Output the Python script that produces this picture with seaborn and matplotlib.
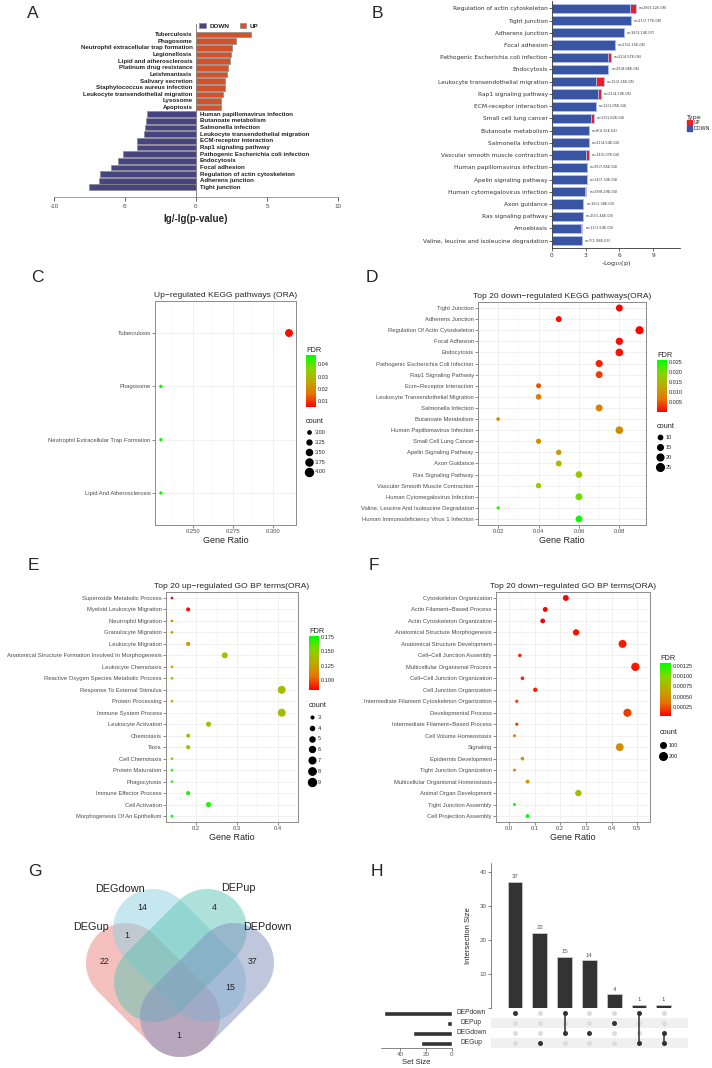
import numpy as np
import pandas as pd
import matplotlib
matplotlib.use('Agg')
import matplotlib.pyplot as plt
import matplotlib.transforms as mtransforms
import seaborn as sns
from matplotlib.colors import LinearSegmentedColormap, Normalize
from matplotlib.lines import Line2D
from matplotlib.patches import Patch, Polygon

# ---------------- data ----------------
# A: KEGG up / down (lg / -lg p)
termsA_up = ['Tuberculosis', 'Phagosome', 'Neutrophil extracellular trap formation', 'Legionellosis',
             'Lipid and atherosclerosis', 'Platinum drug resistance', 'Leishmaniasis', 'Salivary secretion',
             'Staphylococcus aureus infection', 'Leukocyte transendothelial migration', 'Lysosome', 'Apoptosis']
valsA_up = [3.88, 2.82, 2.54, 2.47, 2.40, 2.26, 2.21, 2.05, 2.05, 1.91, 1.76, 1.74]
termsA_down = ['Human papillomavirus infection', 'Butanoate metabolism', 'Salmonella infection',
               'Leukocyte transendothelial migration', 'ECM-receptor interaction', 'Rap1 signaling pathway',
               'Pathogenic Escherichia coli infection', 'Endocytosis', 'Focal adhesion',
               'Regulation of actin cytoskeleton', 'Adherens junction', 'Tight junction']
valsA_down = [-3.46, -3.51, -3.62, -3.69, -4.19, -4.19, -5.13, -5.46, -6.02, -6.75, -6.80, -7.50]

# B: stacked -log10(p)
termsB = ['Regulation of actin cytoskeleton', 'Tight junction', 'Adherens junction', 'Focal adhesion',
          'Pathogenic Escherichia coli infection', 'Endocytosis', 'Leukocyte transendothelial migration',
          'Rap1 signaling pathway', 'ECM-receptor interaction', 'Small cell lung cancer', 'Butanoate metabolism',
          'Salmonella infection', 'Vascular smooth muscle contraction', 'Human papillomavirus infection',
          'Apelin signaling pathway', 'Human cytomegalovirus infection', 'Axon guidance', 'Ras signaling pathway',
          'Amoebiasis', 'Valine, leucine and isoleucine degradation']
downB = [6.92, 7.04, 6.43, 5.60, 5.02, 5.02, 3.95, 4.12, 3.89, 3.43, 3.32, 3.29, 3.03, 3.12, 3.12, 2.94,
         2.80, 2.77, 2.54, 2.65]
upB = [0.52, 0, 0, 0, 0.26, 0, 0.64, 0.21, 0, 0.32, 0, 0, 0.23, 0, 0, 0.12, 0, 0, 0.17, 0]
nB = [28, 21, 16, 23, 22, 25, 15, 21, 12, 13, 8, 21, 14, 25, 14, 29, 16, 20, 11, 7]
pB = ['3.12E-08', '7.77E-08', '3.14E-07', '2.15E-06', '4.57E-06', '8.06E-06', '2.26E-05', '4.10E-05',
      '1.05E-04', '1.62E-04', '4.15E-04', '4.54E-04', '5.07E-04', '7.85E-04', '7.33E-04', '8.29E-04',
      '1.38E-03', '1.46E-03', '1.54E-03', '1.98E-03']

# C: up KEGG ORA
termsC = ['Tuberculosis', 'Phagosome', 'Neutrophil Extracellular Trap Formation', 'Lipid And Atherosclerosis']
ratioC = [0.310, 0.230, 0.230, 0.230]
countC = [4, 3, 3, 3]
fdrC = [0.0067, 0.047, 0.047, 0.047]

# D: down KEGG ORA
termsD = ['Tight Junction', 'Adherens Junction', 'Regulation Of Actin Cytoskeleton', 'Focal Adhesion',
          'Endocytosis', 'Pathogenic Escherichia Coli Infection', 'Rap1 Signaling Pathway',
          'Ecm−Receptor Interaction', 'Leukocyte Transendothelial Migration', 'Salmonella Infection',
          'Butanoate Metabolism', 'Human Papillomavirus Infection', 'Small Cell Lung Cancer',
          'Apelin Signaling Pathway', 'Axon Guidance', 'Ras Signaling Pathway',
          'Vascular Smooth Muscle Contraction', 'Human Cytomegalovirus Infection',
          'Valine, Leucine And Isoleucine Degradation', 'Human Immunodeficiency Virus 1 Infection']
ratioD = [0.08, 0.05, 0.09, 0.08, 0.08, 0.07, 0.07, 0.04, 0.04, 0.07, 0.02, 0.08, 0.04, 0.05, 0.05,
          0.06, 0.04, 0.06, 0.02, 0.06]
countD = [21, 16, 28, 23, 25, 22, 21, 12, 15, 21, 8, 25, 13, 14, 16, 20, 14, 21, 7, 20]
fdrD = [0.0003, 0.0008, 0.0003, 0.0008, 0.0010, 0.0020, 0.0035, 0.0045, 0.0070, 0.0080, 0.0090, 0.0095,
        0.0100, 0.0110, 0.0150, 0.0170, 0.0180, 0.0205, 0.0235, 0.0255]

# E: up GO BP ORA
termsE = ['Superoxide Metabolic Process', 'Myeloid Leukocyte Migration', 'Neutrophil Migration',
          'Granulocyte Migration', 'Leukocyte Migration',
          'Anatomical Structure Formation Involved In Morphogenesis', 'Leukocyte Chemotaxis',
          'Reactive Oxygen Species Metabolic Process', 'Response To External Stimulus', 'Protein Processing',
          'Immune System Process', 'Leukocyte Activation', 'Chemotaxis', 'Taxis', 'Cell Chemotaxis',
          'Protein Maturation', 'Phagocytosis', 'Immune Effector Process', 'Cell Activation',
          'Morphogenesis Of An Epithelium']
ratioE = [0.14, 0.18, 0.14, 0.14, 0.18, 0.27, 0.14, 0.14, 0.41, 0.14, 0.41, 0.23, 0.18, 0.18, 0.14,
          0.14, 0.14, 0.18, 0.23, 0.14]
countE = [3, 4, 3, 3, 4, 6, 3, 3, 9, 3, 9, 5, 4, 4, 3, 3, 3, 4, 5, 3]
fdrE = [0.085, 0.086, 0.118, 0.118, 0.120, 0.140, 0.135, 0.135, 0.140, 0.135, 0.140, 0.140, 0.140,
        0.140, 0.140, 0.165, 0.165, 0.172, 0.172, 0.177]

# F: down GO BP ORA
termsF = ['Cytoskeleton Organization', 'Actin Filament−Based Process', 'Actin Cytoskeleton Organization',
          'Anatomical Structure Morphogenesis', 'Anatomical Structure Development',
          'Cell−Cell Junction Assembly', 'Multicellular Organismal Process', 'Cell−Cell Junction Organization',
          'Cell Junction Organization', 'Intermediate Filament Cytoskeleton Organization',
          'Developmental Process', 'Intermediate Filament−Based Process', 'Cell Volume Homeostasis',
          'Signaling', 'Epidermis Development', 'Tight Junction Organization',
          'Multicellular Organismal Homeostasis', 'Animal Organ Development', 'Tight Junction Assembly',
          'Cell Projection Assembly']
ratioF = [0.222, 0.142, 0.132, 0.262, 0.443, 0.043, 0.493, 0.053, 0.103, 0.031, 0.462, 0.031, 0.022,
          0.432, 0.053, 0.022, 0.073, 0.271, 0.022, 0.073]
countF = [110, 70, 65, 130, 220, 21, 245, 26, 50, 15, 230, 15, 11, 215, 26, 11, 36, 135, 11, 36]
fdrF = [0.00001, 0.00002, 0.00003, 0.00008, 0.00010, 0.00010, 0.00010, 0.00012, 0.00012, 0.00020,
        0.00020, 0.00020, 0.00040, 0.00050, 0.00050, 0.00050, 0.00060, 0.00080, 0.00130, 0.00130]

# G / H: set intersections
set_names = ['DEPdown', 'DEPup', 'DEGdown', 'DEGup']
combo_sets = [['DEPdown'], ['DEGup'], ['DEGdown', 'DEPdown'], ['DEGdown'], ['DEPup'],
              ['DEGup', 'DEPdown'], ['DEGup', 'DEGdown']]
combo_sizes = [37, 22, 15, 14, 4, 1, 1]

# ---------------- style ----------------
sns.set_theme(style='white')
plt.rcParams['font.family'] = ['Liberation Sans', 'DejaVu Sans']
plt.rcParams['axes.linewidth'] = 0.6
plt.rcParams['axes.unicode_minus'] = False

W, H = 712, 1068
fig = plt.figure(figsize=(W / 100, H / 100), dpi=100)


def box(l, t, r, b):
    return fig.add_axes([l / W, 1 - b / H, (r - l) / W, (b - t) / H])


rg = LinearSegmentedColormap.from_list('rg', ['#FF0000', '#E47400', '#BDAA00', '#84D600', '#00FF00'])

for letter, x, y in [('A', 33, 13), ('B', 377, 13), ('C', 37, 277), ('D', 372, 277),
                     ('E', 33, 565), ('F', 374, 565), ('G', 35, 871), ('H', 377, 871)]:
    fig.text(x / W, 1 - y / H, letter, fontsize=12.5, ha='center', va='center')

# ---------------- A ----------------
axA = box(54, 20, 338, 197)
dfA = pd.DataFrame({'key': ['u' + t for t in termsA_up] + ['d' + t for t in termsA_down],
                    'term': termsA_up + termsA_down,
                    'value': valsA_up + valsA_down,
                    'type': ['UP'] * len(termsA_up) + ['DOWN'] * len(termsA_down)})
sns.barplot(data=dfA, x='value', y='key', hue='type', hue_order=['DOWN', 'UP'],
            palette={'DOWN': '#3D3A8C', 'UP': '#F0440C'}, dodge=False, orient='h', width=0.86,
            edgecolor='#8A8A8A', linewidth=0.5, ax=axA)
for i, row in dfA.iterrows():
    if row['value'] > 0:
        axA.text(-0.25, i, row['term'], ha='right', va='center', fontsize=4.4, fontweight='bold', color='#222')
    else:
        axA.text(0.25, i, row['term'], ha='left', va='center', fontsize=4.4, fontweight='bold', color='#222')
axA.axvline(0, ymin=0, ymax=0.975, color='#8A8A8A', lw=0.7, zorder=0)
axA.set_xlim(-10, 10)
axA.set_ylim(len(dfA) - 1 + 1.46, -2.2)
axA.set_yticks([])
axA.set_ylabel('')
axA.set_xticks([-10, -5, 0, 5, 10])
axA.tick_params(axis='x', labelsize=4.5, colors='#444', length=3, width=0.6, pad=2, bottom=True)
axA.set_xlabel('lg/-lg(p-value)', fontsize=7, fontweight='bold', labelpad=4)
sns.despine(ax=axA, left=True)
axA.spines['bottom'].set_color('#8A8A8A')
h, l = axA.get_legend_handles_labels()
axA.legend(h, l, loc='center', bbox_to_anchor=(0.616, 0.966), ncol=2, frameon=False,
           prop={'weight': 'bold', 'size': 4.6}, handlelength=1.0, handleheight=0.9,
           columnspacing=1.6, handletextpad=0.6)

# ---------------- B ----------------
axB = box(552, 1, 680, 248)
totB = [d + u for d, u in zip(downB, upB)]
sns.barplot(x=totB, y=termsB, orient='h', color='#EE1C25', saturation=1, width=0.76,
            edgecolor='#B4C6F0', linewidth=0.6, ax=axB)
sns.barplot(x=downB, y=termsB, orient='h', color='#3A54A4', saturation=1, width=0.76,
            edgecolor='#B4C6F0', linewidth=0.6, ax=axB)
for i, (t, n, p) in enumerate(zip(totB, nB, pB)):
    axB.text(t + 0.25, i, f'n={n}({p})', fontsize=2.5, va='center', ha='left', color='#333',
             family='DejaVu Sans')
axB.set_xlim(0, 11.4)
axB.set_ylim(19.6, -0.6)
axB.set_xticks([0, 3, 6, 9])
axB.set_yticks(range(len(termsB)))
axB.set_yticklabels(termsB, fontsize=4.2, family='DejaVu Sans', color='#333')
axB.tick_params(axis='x', labelsize=4.2, length=2, width=0.5, pad=1.5, bottom=True, colors='#333')
axB.tick_params(axis='y', length=2, width=0.5, pad=1, left=True)
for lab in axB.get_xticklabels():
    lab.set_family('DejaVu Sans')
axB.set_xlabel('-Log$_{10}$(p)', fontsize=4.6, labelpad=1, family='DejaVu Sans')
sns.despine(ax=axB)
for s in ['left', 'bottom']:
    axB.spines[s].set_color('#333')
    axB.spines[s].set_linewidth(0.6)
fig.legend(handles=[Patch(color='#EE1C25', label='UP'), Patch(color='#3A54A4', label='DOWN')],
           title='Type', loc='upper left', bbox_to_anchor=(684 / W, 1 - 112 / H), frameon=False,
           prop={'family': 'DejaVu Sans', 'size': 3.6}, title_fontproperties={'family': 'DejaVu Sans', 'size': 4.6},
           handlelength=1.0, handleheight=1.2, labelspacing=0.15, handletextpad=0.5, borderpad=0,
           alignment='left')


# ---------------- dot plots ----------------
def dotplot(rect, terms, ratio, count, fdr, title, xlim, xticks, xtl, sizes, cnorm, fnorm,
            fticks, ftl, cbar_rect, cnt_vals, cnt_lab, cnt_xy, pad, lspace):
    ax = box(*rect)
    df = pd.DataFrame({'term': terms, 'ratio': ratio, 'count': count, 'FDR': fdr})
    ax.set_axisbelow(True)
    sns.scatterplot(data=df, x='ratio', y='term', hue='FDR', palette=rg, hue_norm=fnorm, size='count',
                    sizes=sizes, size_norm=cnorm, legend=False, linewidth=0, ax=ax, zorder=3)
    n = len(terms)
    ax.set_ylim(n - 1 + pad, -pad)
    ax.set_xlim(*xlim)
    ax.set_xticks(xticks)
    ax.set_xticklabels(xtl)
    mids = [(a + b) / 2 for a, b in zip(xticks[:-1], xticks[1:])]
    step = xticks[1] - xticks[0]
    ax.set_xticks([xticks[0] - step / 2] + mids + [xticks[-1] + step / 2], minor=True)
    ax.grid(True, which='major', color='#EBEBEB', lw=0.5)
    ax.grid(True, which='minor', axis='x', color='#F4F4F4', lw=0.35)
    ax.tick_params(which='minor', length=0)
    ax.tick_params(which='major', labelsize=4.25, labelcolor='#4D4D4D', length=2, width=0.4,
                   color='#333', pad=1, left=True, bottom=True)
    for s in ax.spines.values():
        s.set_color('#8C8C8C')
        s.set_linewidth(0.7)
    ax.set_ylabel('')
    ax.set_xlabel('Gene Ratio', fontsize=6.5, labelpad=1)
    ax.set_title(title, fontsize=6.1, pad=3)

    cax = box(*cbar_rect)
    sm = plt.cm.ScalarMappable(norm=Normalize(*fnorm), cmap=rg)
    cb = fig.colorbar(sm, cax=cax)
    cb.outline.set_visible(False)
    cb.set_ticks(fticks)
    cb.set_ticklabels(ftl)
    cax.tick_params(labelsize=4, length=1.5, width=0.4, color='white', direction='in', pad=1.5)
    cax.set_title('FDR', fontsize=5.3, loc='left', pad=2)

    handles = []
    for v in cnt_vals:
        s = sizes[0] + (v - cnorm[0]) / (cnorm[1] - cnorm[0]) * (sizes[1] - sizes[0])
        handles.append(Line2D([], [], ls='', marker='o', color='black', markersize=np.sqrt(s)))
    ax.legend(handles, cnt_lab, title='count', loc='upper left',
              bbox_to_anchor=(cnt_xy[0] / W, 1 - cnt_xy[1] / H), bbox_transform=fig.transFigure,
              frameon=False, fontsize=4, title_fontsize=5.3, labelspacing=lspace, handletextpad=0.3,
              borderpad=0, borderaxespad=0, handlelength=1.2, alignment='left')
    return ax


dotplot((155, 301, 296, 525), termsC, ratioC, countC, fdrC, 'Up−regulated KEGG pathways (ORA)',
        (0.2263, 0.3144), [0.25, 0.275, 0.30], ['0.250', '0.275', '0.300'], (5.8, 33), (3, 4),
        (0.0055, 0.0475), [0.01, 0.02, 0.03, 0.04], ['0.01', '0.02', '0.03', '0.04'],
        (306, 355, 316, 407), [3.0, 3.25, 3.5, 3.75, 4.0], ['3.00', '3.25', '3.50', '3.75', '4.00'],
        (306, 418), 0.6, 0.88)

dotplot((478, 302, 646, 525), termsD, ratioD, countD, fdrD, 'Top 20 down−regulated KEGG pathways(ORA)',
        (0.0168, 0.0932), [0.02, 0.04, 0.06, 0.08], ['0.02', '0.04', '0.06', '0.08'], (5.6, 36), (7, 29),
        (0.0001, 0.026), [0.005, 0.010, 0.015, 0.020, 0.025], ['0.005', '0.010', '0.015', '0.020', '0.025'],
        (657, 360, 667, 412), [10, 15, 20, 25], ['10', '15', '20', '25'], (657, 423), 0.54, 0.88)

dotplot((166, 592, 298, 822), termsE, ratioE, countE, fdrE, 'Top 20 up−regulated GO BP terms(ORA)',
        (0.1255, 0.4226), [0.2, 0.3, 0.4], ['0.2', '0.3', '0.4'], (3.8, 33), (3, 9),
        (0.0834, 0.1767), [0.100, 0.125, 0.150, 0.175], ['0.100', '0.125', '0.150', '0.175'],
        (309, 636, 319, 690), [3, 4, 5, 6, 7, 8, 9], ['3', '4', '5', '6', '7', '8', '9'], (309, 702),
        0.52, 1.05)

dotplot((496, 592, 650, 822), termsF, ratioF, countF, fdrF, 'Top 20 down−regulated GO BP terms(ORA)',
        (-0.003, 0.517), [0.0, 0.1, 0.2, 0.3, 0.4, 0.5], ['0.0', '0.1', '0.2', '0.3', '0.4', '0.5'],
        (4.7, 36), (11, 245), (0.00003, 0.00132), [0.00025, 0.0005, 0.00075, 0.001, 0.00125],
        ['0.00025', '0.00050', '0.00075', '0.00100', '0.00125'], (660, 663, 671, 716), [100, 200],
        ['100', '200'], (660, 729), 0.52, 1.2)

# ---------------- G: Venn ----------------
axG = box(0, 860, 360, 1068)
axG.set_xlim(0, 360)
axG.set_ylim(1068, 860)
axG.axis('off')

venn_shapes = {'DEGup': ((126, 963), (180, 1017), '#E8837F'),
               'DEGdown': ((153, 929), (206, 982), '#8ED0E3'),
               'DEPup': ((207, 929), (154, 982), '#5FC4B4'),
               'DEPdown': ((234, 963), (180, 1017), '#8090BD')}
venn_r = 40


def stadium(p1, p2, r):
    p1, p2 = np.array(p1, float), np.array(p2, float)
    a = np.arctan2(*(p2 - p1)[::-1])
    t1 = np.linspace(a - np.pi / 2, a + np.pi / 2, 40)
    t2 = np.linspace(a + np.pi / 2, a + 3 * np.pi / 2, 40)
    c2 = np.c_[p2[0] + r * np.cos(t1), p2[1] + r * np.sin(t1)]
    c1 = np.c_[p1[0] + r * np.cos(t2), p1[1] + r * np.sin(t2)]
    return np.vstack([c2, c1])


for name in ['DEGup', 'DEGdown', 'DEPup', 'DEPdown']:
    p1, p2, col = venn_shapes[name]
    axG.add_patch(Polygon(stadium(p1, p2, venn_r), closed=True, fc=col, ec='none', alpha=0.5))

venn_labels = {'DEGdown': (120, 889), 'DEPup': (238, 888), 'DEGup': (91, 927), 'DEPdown': (267, 927)}
for name, (x, y) in venn_labels.items():
    axG.text(x, y, name, fontsize=7.8, ha='center', va='center', color='#222')

venn_pos = {('DEPdown',): (253, 961), ('DEGup',): (104, 962), ('DEGdown', 'DEPdown'): (230, 988),
            ('DEGdown',): (142, 908), ('DEPup',): (214, 907), ('DEGup', 'DEPdown'): (179, 1035),
            ('DEGup', 'DEGdown'): (127, 935)}
for sets, size in zip(combo_sets, combo_sizes):
    x, y = venn_pos[tuple(sets)]
    axG.text(x, y, str(size), fontsize=6.3, ha='center', va='center', color='#222')

# ---------------- H: UpSet ----------------
combo_ids = ['&'.join(s) for s in combo_sets]
axHb = box(491, 863, 688, 1008)
sns.barplot(x=combo_ids, y=combo_sizes, order=combo_ids, color='#333333', saturation=1, width=0.6,
            edgecolor='#C8C8C8', linewidth=0.6, ax=axHb)
axHb.bar_label(axHb.containers[0], fontsize=4.3, color='#555', padding=2)
axHb.set_xlim(-0.97, 6.98)
axHb.set_ylim(0, 42.6)
axHb.set_xticks([])
axHb.set_yticks([0, 10, 20, 30, 40])
axHb.set_yticklabels(['', '10', '20', '30', '40'])
axHb.tick_params(axis='y', labelsize=4.5, labelcolor='#555', length=2, width=0.4, left=True, pad=1)
axHb.set_ylabel('Intersection Size', fontsize=5.5, labelpad=6)
sns.despine(ax=axHb, bottom=True)
axHb.spines['left'].set_color('#555')
axHb.spines['left'].set_linewidth(0.5)

axM = box(491, 1008, 688, 1048)
dot_rows = []
for ci, sets in enumerate(combo_sets):
    for si, name in enumerate(set_names):
        dot_rows.append({'x': ci, 'y': si, 'on': name in sets})
dfM = pd.DataFrame(dot_rows)
for i in range(len(set_names)):
    if i % 2 == 1:
        axM.axhspan(i - 0.5, i + 0.5, color='#F0F0F0', lw=0, zorder=0)
sns.scatterplot(data=dfM[~dfM['on']], x='x', y='y', color='#DCDCDC', s=13, linewidth=0, ax=axM, zorder=2)
for ci, sets in enumerate(combo_sets):
    idx = [set_names.index(s) for s in sets]
    if len(idx) > 1:
        axM.vlines(ci, min(idx), max(idx), color='#333', lw=1.1, zorder=3)
sns.scatterplot(data=dfM[dfM['on']], x='x', y='y', color='#333333', s=13, linewidth=0, ax=axM, zorder=4)
axM.set_xlim(-0.97, 6.98)
axM.set_ylim(3.5, -0.5)
axM.axis('off')

set_sizes = [sum(sz for s, sz in zip(combo_sets, combo_sizes) if name in s) for name in set_names]
axS = box(381, 1008, 452, 1048)
sns.barplot(x=set_sizes, y=set_names, order=set_names, orient='h', color='#333333', saturation=1,
            width=0.5, ax=axS)
axS.set_xlim(55, 0)
axS.set_ylim(3.5, -0.5)
axS.set_yticks([])
axS.set_ylabel('')
axS.set_xticks([40, 20, 0])
axS.tick_params(axis='x', labelsize=4.5, labelcolor='#555', length=2, width=0.4, bottom=True, pad=1)
axS.set_xlabel('Set Size', fontsize=5.5, labelpad=1)
sns.despine(ax=axS, left=True)
axS.spines['bottom'].set_color('#555')
axS.spines['bottom'].set_linewidth(0.5)
tr = mtransforms.blended_transform_factory(axS.transAxes, axS.transData)
for i, name in enumerate(set_names):
    axS.text(1.27, i, name, transform=tr, fontsize=4.8, ha='center', va='center', color='#333')

fig.savefig('out.png', dpi=100)
